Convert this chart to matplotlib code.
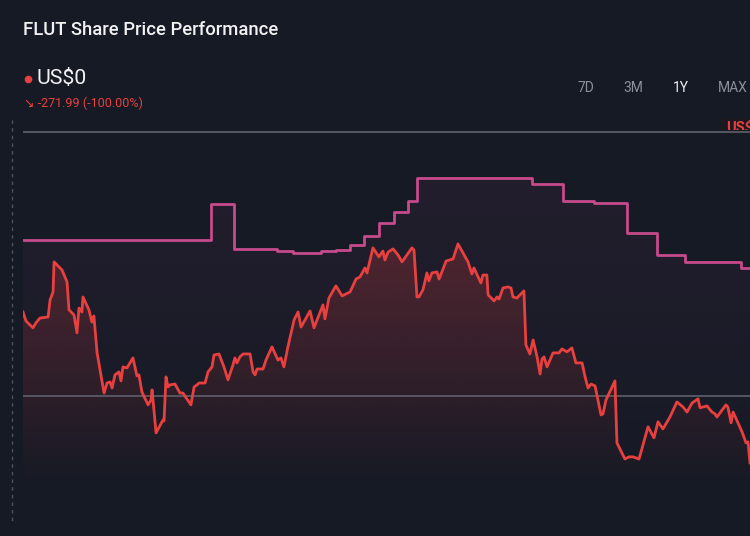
import matplotlib
matplotlib.use("Agg")
import matplotlib.pyplot as plt
import numpy as np
from matplotlib.lines import Line2D
from matplotlib.transforms import Bbox, TransformedBbox

# share price, one year of days
days = [0, 1.5, 5.0, 6.5, 8.5, 12.6, 13.6, 15.1, 15.6, 19.6, 22.1, 23.1, 25.6, 27.1, 28.1, 29.6,
        30.1, 33.1, 34.6, 35.6, 37.2, 40.7, 42.2, 43.7, 44.7, 46.2, 48.2, 49.2, 50.2, 52.2, 55.2,
        57.2, 58.2, 59.7, 62.8, 64.3, 64.8, 66.8, 70.3, 70.8, 71.8, 72.8, 73.8, 76.3, 78.8, 80.3,
        84.3, 85.9, 87.4, 88.4, 91.4, 92.9, 94.9, 95.9, 98.4, 100.9, 102.9, 105.4, 106.4, 107.4,
        108.9, 110.5, 114.0, 115.5, 116.5, 117.5, 120.5, 122.0, 125.0, 128.0, 129.5, 131.0, 133.0,
        136.1, 138.1, 139.6, 144.1, 146.1, 150.6, 151.6, 153.6, 157.1, 160.2, 164.2, 167.2, 169.2,
        171.7, 172.7, 175.7, 178.7, 180.7, 181.7, 183.3, 185.8, 188.3, 190.3, 195.3, 196.3, 197.8,
        198.8, 200.8, 202.8, 203.8, 205.3, 207.8, 208.9, 210.9, 212.4, 215.9, 218.4, 223.4, 225.4,
        226.4, 229.9, 230.9, 232.9, 233.5, 236.5, 238.0, 239.0, 241.0, 243.5, 245.0, 246.0, 248.0,
        251.5, 252.5, 254.5, 256.1, 258.1, 259.6, 260.6, 261.6, 263.1, 266.1, 269.1, 270.6, 273.1,
        275.6, 277.6, 280.7, 282.2, 283.7, 285.2, 287.2, 290.2, 291.2, 292.7, 297.2, 298.2, 302.2,
        304.2, 306.3, 309.3, 313.8, 316.8, 318.8, 321.3, 324.8, 328.3, 331.4, 333.4, 335.9, 338.9,
        339.9, 343.4, 345.9, 347.4, 348.4, 352.9, 353.9, 355.5, 356.5, 361.0, 363.0, 364.0, 365.0]
price = [231.8, 228.4, 225.8, 227.7, 229.5, 229.9, 236.4, 239.4, 250.8, 247.7, 243.2, 232.6, 230.7,
         223.9, 233.3, 231.8, 237.5, 232.6, 228.0, 230.3, 216.3, 201.1, 204.9, 205.3, 203.0, 208.0,
         209.1, 205.7, 211.0, 210.6, 214.4, 207.6, 208.0, 201.5, 196.6, 198.5, 202.3, 186.0, 190.9,
         190.5, 207.2, 203.4, 204.2, 204.5, 201.1, 201.1, 196.6, 203.4, 204.2, 204.9, 204.9, 209.1,
         211.0, 215.5, 215.9, 211.0, 206.1, 211.7, 214.4, 212.5, 214.8, 215.9, 215.9, 209.1, 208.0,
         210.2, 210.2, 213.6, 218.6, 213.6, 214.4, 211.0, 218.6, 228.8, 231.8, 226.1, 232.2, 225.8,
         234.5, 229.2, 237.1, 241.7, 237.9, 239.4, 244.3, 245.1, 248.5, 246.6, 256.1, 252.7, 254.9,
         251.5, 254.5, 255.7, 253.4, 250.8, 256.1, 255.3, 237.5, 237.5, 240.2, 246.6, 243.6, 246.6,
         247.0, 244.3, 248.1, 251.1, 251.9, 257.6, 250.8, 246.2, 248.5, 242.8, 245.8, 245.8, 238.3,
         236.0, 237.5, 236.7, 240.9, 241.3, 240.9, 237.5, 237.1, 239.8, 219.3, 215.9, 221.2, 214.8,
         208.3, 214.0, 214.8, 211.0, 216.3, 216.3, 217.8, 216.7, 218.2, 212.5, 212.5, 207.2, 203.0,
         204.5, 203.8, 192.8, 193.2, 198.5, 205.7, 182.2, 176.1, 176.9, 176.9, 176.1, 188.3, 184.1,
         190.2, 187.5, 192.0, 197.7, 195.8, 193.9, 197.3, 198.9, 195.5, 196.2, 193.9, 193.2, 192.0,
         196.6, 195.8, 189.8, 193.9, 186.4, 182.2, 182.6, 174.6]

# second (stepped) series
step_days = [0, 94.4, 105.9, 127.5, 135.6, 149.6, 157.1, 164.2, 171.2, 178.7, 186.3, 193.3,
             197.8, 255.5, 271.1, 286.7, 303.2, 318.3, 332.4, 360.5, 365.0]
step_vals = [259.1, 272.7, 255.7, 254.9, 254.2, 254.9, 255.3, 257.2, 260.6, 265.5, 269.7, 273.9,
             282.6, 280.3, 273.9, 273.1, 261.7, 253.4, 250.8, 248.5, 248.5]

grid_levels = [300, 200]
periods = ["7D", "3M", "1Y", "MAX"]

BG = "#151a25"
RED = "#e8403f"
PINK = "#c64a8c"

plt.rcParams['font.family'] = ['Roboto', 'DejaVu Sans']

fig = plt.figure(figsize=(7.5, 5.36), dpi=100, facecolor=BG)


def fx(x):
    return x / 750


def fy(y):
    return 1 - y / 536


ax = fig.add_axes([fx(23), fy(530), fx(727), 412 / 536])
ax.set_facecolor(BG)
ymin, ymax = 149.2, 305.3
ax.set_xlim(0, 365)
ax.set_ylim(ymin, ymax)
for s in ax.spines.values():
    s.set_visible(False)
ax.set_xticks([])
ax.set_yticks([])


def gradient_fill(x, y, color, a_top, fade_to, step=None):
    poly = ax.fill_between(x, y, ymin, step=step, facecolor="none", edgecolor="none")
    rgb = matplotlib.colors.to_rgb(color)
    top = max(y)
    levels = np.linspace(ymin, top, 200)
    g = np.zeros((200, 1, 4))
    g[:, 0, :3] = rgb
    g[:, 0, 3] = np.interp(levels, [fade_to, top], [0, a_top])
    img = ax.imshow(g, extent=[0, 365, ymin, top], aspect="auto", origin="lower", zorder=1)
    img.set_clip_path(poly.get_paths()[0], transform=ax.transData)


gradient_fill(step_days, step_vals, PINK, 0.08, 160, step="post")
gradient_fill(days, price, RED, 0.24, 163)

for lv in grid_levels:
    ax.axhline(lv, color="#5d616b", lw=1.2, zorder=2)

ax.step(step_days, step_vals, where="post", color=PINK, lw=2, zorder=3)
ax.plot(days, price, color=RED, lw=2, zorder=4, solid_joinstyle="round")

# price tag on the right, only its top shows above the grid line
tag = ax.text(353, 301.6, "US$300", color=RED, fontsize=10.5, fontweight="bold",
              ha="left", va="center",
              bbox=dict(boxstyle="square,pad=0.35", fc="#1c1820", ec="none"), zorder=5)
tag.set_clip_box(TransformedBbox(Bbox([[0, 300.6], [365, ymax]]), ax.transData))
tag.set_clip_on(True)

# dashed left marker
fig.add_artist(Line2D([fx(12), fx(12)], [fy(120), fy(522)], color="#4d525c", lw=1,
                      linestyle=(0, (2.5, 3))))

fig.text(fx(23), fy(30), "FLUT Share Price Performance", color="#f2f2f2", fontsize=13.3,
         fontweight="medium", va="center", ha="left")
fig.add_artist(Line2D([fx(27.5)], [fy(79)], marker="o", markersize=4.5, color=RED, lw=0))
fig.text(fx(36), fy(79), "US$0", color="#f2f2f2", fontsize=15.3, va="center", ha="left")
fig.text(fx(24), fy(103), "↘ -271.99 (-100.00%)", color=RED, fontsize=9, va="center", ha="left")

px = [586, 633, 681, 733]
for lab, x in zip(periods, px):
    fig.text(fx(x), fy(88), lab, color="#f0f0f0" if lab == "1Y" else "#8c9099", fontsize=10,
             va="center", ha="center")

fig.savefig("out.png", dpi=100, facecolor=BG)
